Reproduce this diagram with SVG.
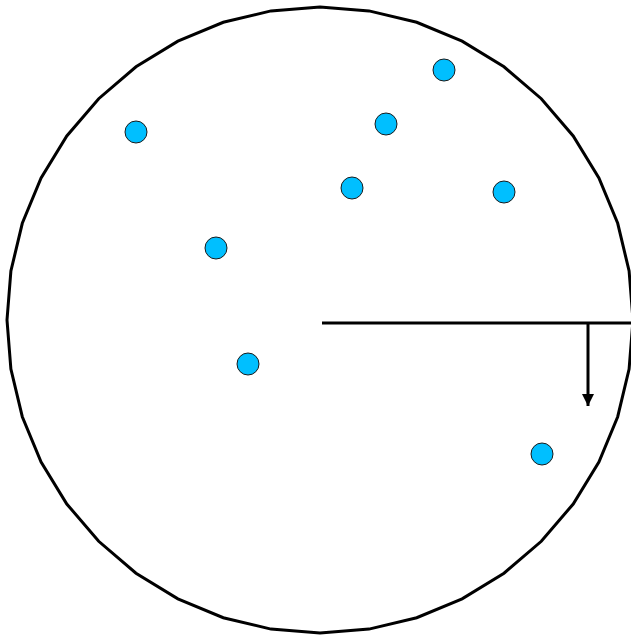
<svg xmlns="http://www.w3.org/2000/svg" width="631" height="639" viewBox="0 0 631 639">
<style>
.dot{fill:#00bfff;stroke:#1a1a1a;stroke-width:1}
.ln{stroke:#000;stroke-width:3;fill:none}
</style>
<defs>
<marker id="ah" viewBox="0 0 10 10" refX="10" refY="5" markerWidth="4" markerHeight="4" orient="auto" markerUnits="strokeWidth">
<path d="M0,0 L10,5 L0,10 z" fill="#000"/>
</marker>
</defs>
<rect width="631" height="639" fill="#fff"/>
<g id="circle">
<polygon class="ln" points="633.0,320.0 629.1,369.0 617.7,416.7 598.9,462.1 573.2,504.0 541.3,541.3 504.0,573.2 462.1,598.9 416.7,617.7 369.0,629.1 320.0,633.0 271.0,629.1 223.3,617.7 177.9,598.9 136.0,573.2 98.7,541.3 66.8,504.0 41.1,462.1 22.3,416.7 10.9,369.0 7.0,320.0 10.9,271.0 22.3,223.3 41.1,177.9 66.8,136.0 98.7,98.7 136.0,66.8 177.9,41.1 223.3,22.3 271.0,10.9 320.0,7.0 369.0,10.9 416.7,22.3 462.1,41.1 504.0,66.8 541.3,98.7 573.2,136.0 598.9,177.9 617.7,223.3 629.1,271.0"/>
</g>
<g id="dots">
<circle class="dot" cx="136" cy="132" r="11"/>
<circle class="dot" cx="444" cy="70" r="11"/>
<circle class="dot" cx="386" cy="124" r="11"/>
<circle class="dot" cx="352" cy="188" r="11"/>
<circle class="dot" cx="504" cy="192" r="11"/>
<circle class="dot" cx="216" cy="248" r="11"/>
<circle class="dot" cx="248" cy="364" r="11"/>
<circle class="dot" cx="542" cy="454" r="11"/>
</g>
<g id="connectors">
<line class="ln" x1="322" y1="323" x2="631" y2="323"/>
<line class="ln" x1="588" y1="323" x2="588" y2="406" marker-end="url(#ah)"/>
</g>
</svg>
